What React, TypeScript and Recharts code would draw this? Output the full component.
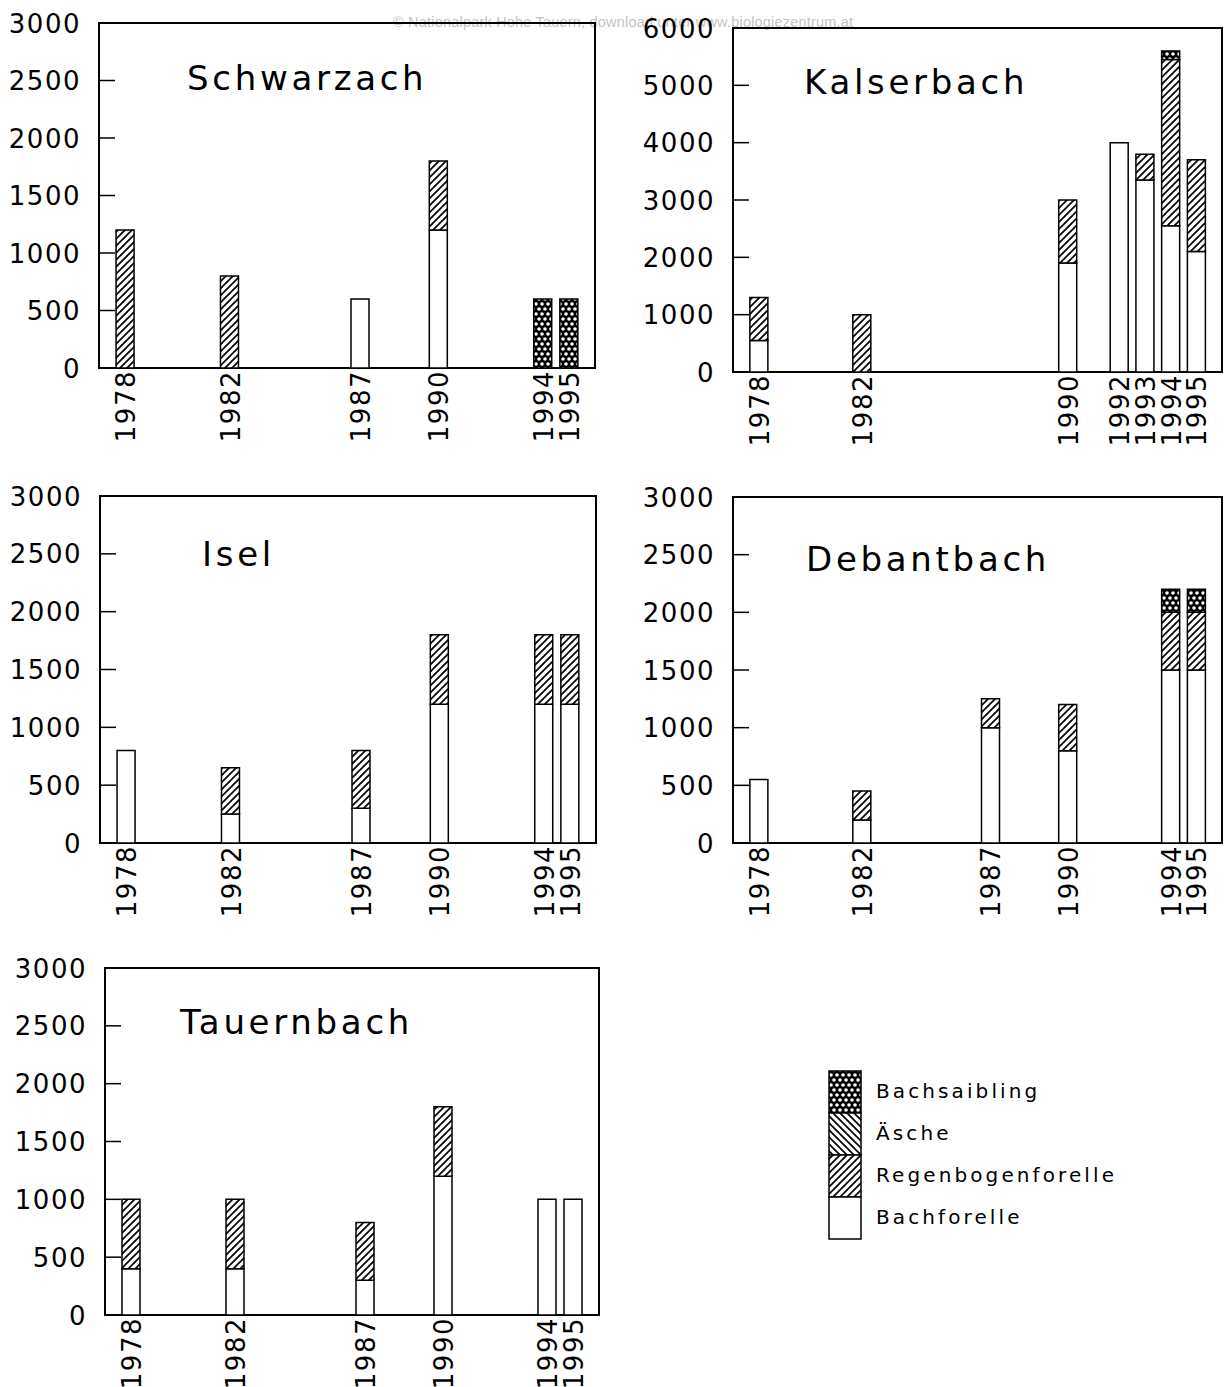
import React from 'react';
import { BarChart, Bar, XAxis, YAxis, ReferenceArea } from 'recharts';

// series, bottom to top in each stack
const speciesKeys = ['Bachforelle', 'Regenbogenforelle', 'Aesche', 'Bachsaibling'];
const speciesNames = ['Bachforelle', 'Regenbogenforelle', 'Äsche', 'Bachsaibling'];
const speciesFills = ['#ffffff', 'url(#hatchRight)', 'url(#hatchLeft)', 'url(#dots)'];

const ticks3000 = [0, 500, 1000, 1500, 2000, 2500, 3000];
const ticks6000 = [0, 1000, 2000, 3000, 4000, 5000, 6000];

const schwarzachYears = [1978, 1982, 1987, 1990, 1994, 1995];
const schwarzachBachforelle = [0, 0, 600, 1200, 0, 0];
const schwarzachRegenbogen = [1200, 800, 0, 600, 0, 0];
const schwarzachAesche = [0, 0, 0, 0, 0, 0];
const schwarzachSaibling = [0, 0, 0, 0, 600, 600];

const kalserYears = [1978, 1982, 1990, 1992, 1993, 1994, 1995];
const kalserBachforelle = [550, 0, 1900, 4000, 3350, 2550, 2100];
const kalserRegenbogen = [750, 1000, 1100, 0, 450, 2900, 1600];
const kalserAesche = [0, 0, 0, 0, 0, 0, 0];
const kalserSaibling = [0, 0, 0, 0, 0, 150, 0];

const iselYears = [1978, 1982, 1987, 1990, 1994, 1995];
const iselBachforelle = [800, 250, 300, 1200, 1200, 1200];
const iselRegenbogen = [0, 400, 500, 600, 600, 600];
const iselAesche = [0, 0, 0, 0, 0, 0];
const iselSaibling = [0, 0, 0, 0, 0, 0];

const debantYears = [1978, 1982, 1987, 1990, 1994, 1995];
const debantBachforelle = [550, 200, 1000, 800, 1500, 1500];
const debantRegenbogen = [0, 250, 250, 400, 500, 500];
const debantAesche = [0, 0, 0, 0, 0, 0];
const debantSaibling = [0, 0, 0, 0, 200, 200];

const tauernYears = [1978, 1982, 1987, 1990, 1994, 1995];
const tauernBachforelle = [400, 400, 300, 1200, 1000, 1000];
const tauernRegenbogen = [600, 600, 500, 600, 0, 0];
const tauernAesche = [0, 0, 0, 0, 0, 0];
const tauernSaibling = [0, 0, 0, 0, 0, 0];

const rows = (years: number[], b: number[], r: number[], a: number[], s: number[]) =>
  years.map((year, i) => ({
    year,
    Bachforelle: b[i],
    Regenbogenforelle: r[i],
    Aesche: a[i],
    Bachsaibling: s[i],
  }));

const FONT = '"DejaVu Sans", sans-serif';
const YW = 100;
const PAD_T = 24;
const PAD_R = 12;
const XH = 90;

const ValueTick = (props: any) => {
  const { x, y, payload } = props;
  return (
    <g>
      <line x1={x + 19} x2={x + 35} y1={y} y2={y} stroke="#000" strokeWidth={1.5} />
      <text x={x + 1} y={y + 9.5} textAnchor="end" fontFamily={FONT} fontSize={26}
        letterSpacing={1.5} fill="#000">
        {payload.value}
      </text>
    </g>
  );
};

const YearTick = (props: any) => {
  const { x, y, payload } = props;
  return (
    <text transform={`translate(${x + 10},${y}) rotate(-90)`} textAnchor="end"
      fontFamily={FONT} fontSize={26} letterSpacing={1.5} fill="#000">
      {payload.value}
    </text>
  );
};

interface Box { left: number; top: number; right: number; bottom: number }

const Panel = ({ data, years, yMax, yTicks, box }:
  { data: any[]; years: number[]; yMax: number; yTicks: number[]; box: Box }) => {
  const w = box.right - box.left;
  const h = box.bottom - box.top;
  return (
    <div style={{ position: 'absolute', left: box.left - YW, top: box.top - PAD_T }}>
      <BarChart width={w + YW + PAD_R} height={h + PAD_T + XH} data={data} barSize={18}
        margin={{ top: PAD_T, right: PAD_R, bottom: 0, left: 0 }}>
        <XAxis dataKey="year" type="number" domain={[1977, 1996]} ticks={years} interval={0}
          tickSize={0} tickMargin={2} axisLine={false} height={XH} tick={YearTick} />
        <YAxis type="number" domain={[0, yMax]} ticks={yTicks} interval={0} tickSize={0}
          tickMargin={19} axisLine={false} width={YW} tick={ValueTick} />
        {speciesKeys.map((k, i) => (
          <Bar key={k} dataKey={k} name={speciesNames[i]} stackId="a" fill={speciesFills[i]}
            stroke="#000" strokeWidth={1.5} isAnimationActive={false} />
        ))}
        <ReferenceArea x1={1977} x2={1996} y1={0} y2={yMax} fill="none" fillOpacity={0}
          stroke="#000" strokeWidth={2} ifOverflow="visible" />
      </BarChart>
    </div>
  );
};

const titles = [
  { text: 'Schwarzach', x: 187, y: 90 },
  { text: 'Kalserbach', x: 804, y: 94 },
  { text: 'Isel', x: 202, y: 566 },
  { text: 'Debantbach', x: 806, y: 571 },
  { text: 'Tauernbach', x: 180, y: 1034 },
];

export default function App() {
  const legendTop = 1071;
  const seg = 42;
  const legendOrder = [3, 2, 1, 0];
  return (
    <div style={{ position: 'absolute', left: 0, top: 0, width: 1232, height: 1387, background: '#fff' }}>
      <svg width={1232} height={1387} style={{ position: 'absolute', left: 0, top: 0 }}>
        <text x={393} y={27} fontFamily='"Liberation Sans", Arial, sans-serif' fontSize={14.5}
          letterSpacing={0.2} fill="#c4c4c4">
          © Nationalpark Hohe Tauern, download unter www.biologiezentrum.at
        </text>
      </svg>

      <Panel data={rows(schwarzachYears, schwarzachBachforelle, schwarzachRegenbogen, schwarzachAesche, schwarzachSaibling)}
        years={schwarzachYears} yMax={3000} yTicks={ticks3000}
        box={{ left: 99, top: 23, right: 595, bottom: 368 }} />
      <Panel data={rows(kalserYears, kalserBachforelle, kalserRegenbogen, kalserAesche, kalserSaibling)}
        years={kalserYears} yMax={6000} yTicks={ticks6000}
        box={{ left: 733, top: 28, right: 1222, bottom: 372 }} />
      <Panel data={rows(iselYears, iselBachforelle, iselRegenbogen, iselAesche, iselSaibling)}
        years={iselYears} yMax={3000} yTicks={ticks3000}
        box={{ left: 100, top: 496, right: 596, bottom: 843 }} />
      <Panel data={rows(debantYears, debantBachforelle, debantRegenbogen, debantAesche, debantSaibling)}
        years={debantYears} yMax={3000} yTicks={ticks3000}
        box={{ left: 733, top: 497, right: 1222, bottom: 843 }} />
      <Panel data={rows(tauernYears, tauernBachforelle, tauernRegenbogen, tauernAesche, tauernSaibling)}
        years={tauernYears} yMax={3000} yTicks={ticks3000}
        box={{ left: 105, top: 968, right: 599, bottom: 1315 }} />

      <svg width={1232} height={1387} style={{ position: 'absolute', left: 0, top: 0, pointerEvents: 'none' }}>
        <defs>
          <pattern id="hatchRight" width={7} height={7} patternUnits="userSpaceOnUse">
            <rect width={7} height={7} fill="#fff" />
            <path d="M-1,1 L1,-1 M0,7 L7,0 M6,8 L8,6" stroke="#000" strokeWidth={1.7} />
          </pattern>
          <pattern id="hatchLeft" width={7} height={7} patternUnits="userSpaceOnUse">
            <rect width={7} height={7} fill="#fff" />
            <path d="M-1,6 L1,8 M0,0 L7,7 M6,-1 L8,1" stroke="#000" strokeWidth={1.7} />
          </pattern>
          <pattern id="dots" width={6} height={10} patternUnits="userSpaceOnUse">
            <rect width={6} height={10} fill="#000" />
            <circle cx={0} cy={0} r={1.8} fill="#fff" />
            <circle cx={6} cy={0} r={1.8} fill="#fff" />
            <circle cx={0} cy={10} r={1.8} fill="#fff" />
            <circle cx={6} cy={10} r={1.8} fill="#fff" />
            <circle cx={3} cy={5} r={1.8} fill="#fff" />
          </pattern>
        </defs>

        {titles.map((t) => (
          <text key={t.text} x={t.x} y={t.y} fontFamily={FONT} fontSize={34} letterSpacing={3.7}
            fill="#000">
            {t.text}
          </text>
        ))}

        {legendOrder.map((si, row) => (
          <g key={speciesKeys[si]}>
            <rect x={829} y={legendTop + row * seg} width={32} height={seg}
              fill={speciesFills[si]} stroke="#000" strokeWidth={1.5} />
            <text x={876} y={legendTop + row * seg + 27} fontFamily={FONT} fontSize={20}
              letterSpacing={3.1} fill="#000">
              {speciesNames[si]}
            </text>
          </g>
        ))}
      </svg>
    </div>
  );
}
